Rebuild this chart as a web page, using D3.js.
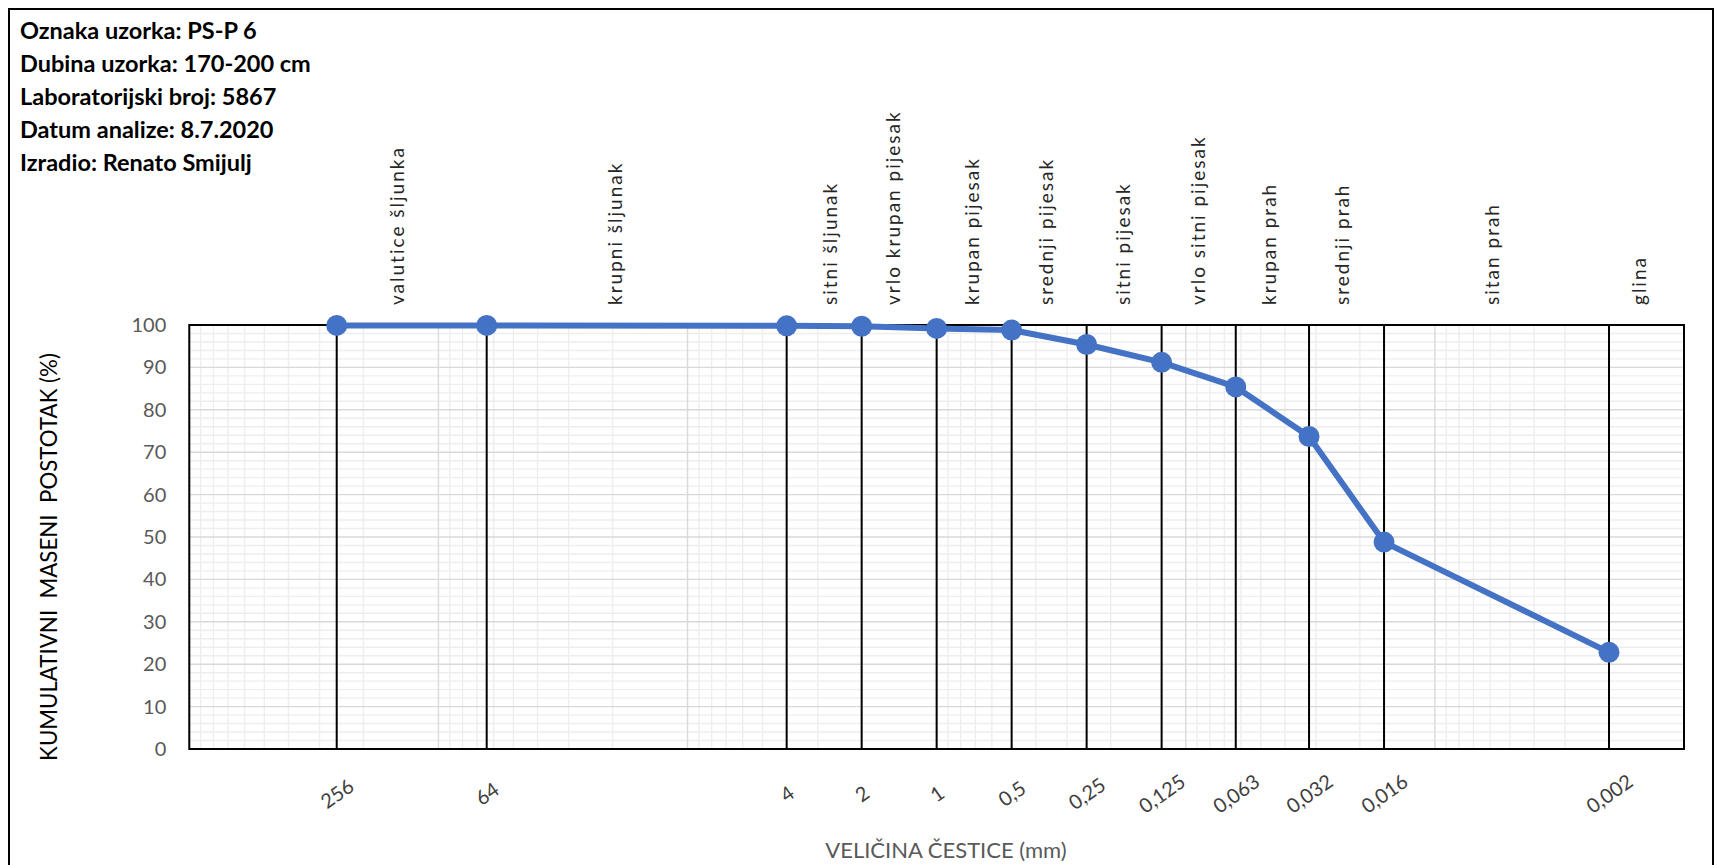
<!DOCTYPE html>
<html><head><meta charset="utf-8">
<script src="https://cdn.jsdelivr.net/npm/d3@7"></script>
<style>
html,body{margin:0;padding:0;background:#fff;}
svg text{font-family:Lato,"Open Sans",sans-serif;}
</style></head>
<body>
<svg id="chart" width="1718" height="865"></svg>
<script>
// ---- data ----
const infoLines = [
  "Oznaka uzorka: PS-P 6",
  "Dubina uzorka: 170-200 cm",
  "Laboratorijski broj: 5867",
  "Datum analize: 8.7.2020",
  "Izradio: Renato Smijulj"
];
const sizes = [256, 64, 4, 2, 1, 0.5, 0.25, 0.125, 0.063, 0.032, 0.016, 0.002];
const sizeLabels = ["256","64","4","2","1","0,5","0,25","0,125","0,063","0,032","0,016","0,002"];
const percentPassing = [99.9, 99.9, 99.8, 99.7, 99.2, 98.8, 95.4, 91.2, 85.4, 73.7, 48.8, 22.8];
const fractionNames = ["valutice šljunka","krupni šljunak","sitni šljunak","vrlo krupan pijesak","krupan pijesak","srednji pijesak","sitni pijesak","vrlo sitni pijesak","krupan prah","srednji prah","sitan prah","glina"];
const fractionPos = [147, 19.6, 2.67, 1.5, 0.723, 0.363, 0.179, 0.0897, 0.0465, 0.0236, 0.00589, 0.00151];
const yTicks = [0,10,20,30,40,50,60,70,80,90,100];
const xTitle = "VELIČINA ČESTICE (mm)";
const yTitle = "KUMULATIVNI  MASENI  POSTOTAK (%)";

// ---- layout ----
const L = 189.3, R = 1684, T = 325, B = 749;
const svg = d3.select("#chart");
const x = d3.scaleLog().domain([1000, 0.001]).range([L, R]);
const y = d3.scaleLinear().domain([0, 100]).range([B, T]);

// outer frame
svg.append("rect").attr("x",9).attr("y",9).attr("width",1704).attr("height",870)
  .attr("fill","none").attr("stroke","#000").attr("stroke-width",2);

// info text
svg.append("g").selectAll("text").data(infoLines).join("text")
  .attr("x",20).attr("y",(d,i)=>39+i*33)
  .attr("font-size",23.5).attr("font-weight","bold").attr("fill","#000")
  .text(d=>d);

// gridlines
const gGrid = svg.append("g");
const minorY = d3.range(0, 101, 2).filter(v => v % 10 !== 0);
gGrid.selectAll(".hmin").data(minorY).join("line")
  .attr("x1",L).attr("x2",R).attr("y1",d=>y(d)).attr("y2",d=>y(d))
  .attr("stroke","#eeeeee").attr("stroke-width",1.4);
const minorX = [];
for (let k=-3;k<=2;k++) for (let m=2;m<=9;m++) minorX.push(m*Math.pow(10,k));
gGrid.selectAll(".vmin").data(minorX).join("line")
  .attr("x1",d=>x(d)).attr("x2",d=>x(d)).attr("y1",T).attr("y2",B)
  .attr("stroke","#eeeeee").attr("stroke-width",1.4);
gGrid.selectAll(".hmaj").data(yTicks).join("line")
  .attr("x1",L).attr("x2",R).attr("y1",d=>y(d)).attr("y2",d=>y(d))
  .attr("stroke","#d9d9d9").attr("stroke-width",1.4);
const majorX = d3.range(-3,4).map(k=>Math.pow(10,k));
gGrid.selectAll(".vmaj").data(majorX).join("line")
  .attr("x1",d=>x(d)).attr("x2",d=>x(d)).attr("y1",T).attr("y2",B)
  .attr("stroke","#d9d9d9").attr("stroke-width",1.4);

// black vertical lines at sieve sizes
svg.append("g").selectAll("line").data(sizes).join("line")
  .attr("x1",d=>x(d)).attr("x2",d=>x(d)).attr("y1",T).attr("y2",B)
  .attr("stroke","#000").attr("stroke-width",2);

// plot frame
svg.append("rect").attr("x",L).attr("y",T).attr("width",R-L).attr("height",B-T)
  .attr("fill","none").attr("stroke","#000").attr("stroke-width",2);

// y axis labels
const yAxis = d3.axisLeft(y).tickValues(yTicks).tickSize(0).tickPadding(23);
const gy = svg.append("g").attr("transform",`translate(${L},0)`).call(yAxis);
gy.select(".domain").remove();
gy.selectAll("text").attr("font-size",20).attr("fill","#595959").style("font-family","Lato");

// x axis labels (rotated)
svg.append("g").selectAll("text").data(sizes).join("text")
  .attr("transform",(d)=>`translate(${x(d)},793) rotate(-35)`)
  .attr("text-anchor","middle").attr("dominant-baseline","central")
  .attr("font-size",20).attr("fill","#404040")
  .text((d,i)=>sizeLabels[i]);

// fraction names (vertical)
svg.append("g").selectAll("text").data(fractionNames).join("text")
  .attr("transform",(d,i)=>`translate(${x(fractionPos[i])+7},305) rotate(-90)`)
  .attr("text-anchor","start")
  .attr("font-size",19).attr("letter-spacing",2).attr("fill","#262626")
  .text(d=>d);

// axis titles
svg.append("text").attr("x",946).attr("y",858).attr("text-anchor","middle")
  .attr("font-size",22).attr("fill","#595959").text(xTitle);
svg.append("text").attr("transform","translate(57,557) rotate(-90)")
  .attr("text-anchor","middle").attr("font-size",22.3).attr("fill","#000")
  .style("white-space","pre").text(yTitle);

// data line + markers
const pts = sizes.map((s,i)=>[s, percentPassing[i]]);
svg.append("path").datum(pts)
  .attr("d", d3.line().x(d=>x(d[0])).y(d=>y(d[1])))
  .attr("fill","none").attr("stroke","#4472C4").attr("stroke-width",6).attr("stroke-linejoin","round");
svg.append("g").selectAll("circle").data(pts).join("circle")
  .attr("cx",d=>x(d[0])).attr("cy",d=>y(d[1])).attr("r",10.5)
  .attr("fill","#4472C4");
</script>
</body></html>
